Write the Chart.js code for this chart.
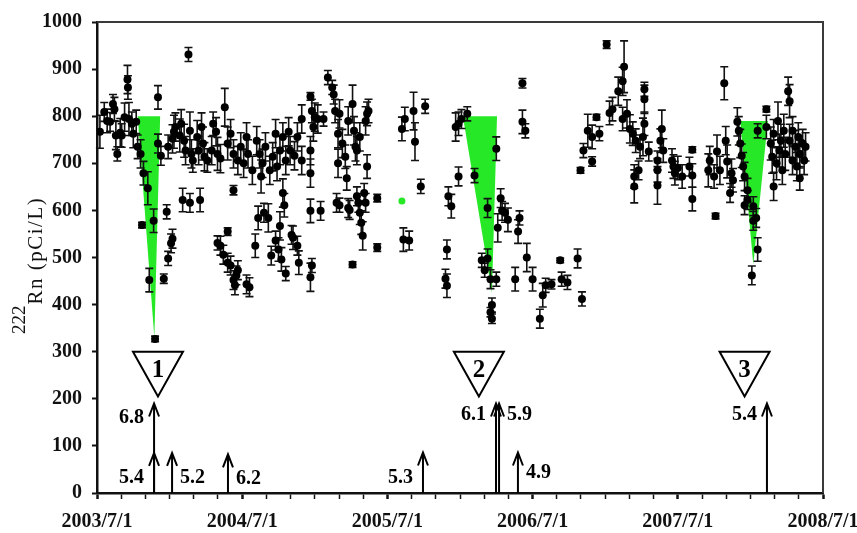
<!DOCTYPE html>
<html>
<head>
<meta charset="utf-8">
<script src="https://cdn.jsdelivr.net/npm/chart.js@4.4.0/dist/chart.umd.min.js"></script>
<style>
  body { margin: 0; background: #fff; }
</style>
</head>
<body>
<canvas id="rnChart" width="857" height="533"></canvas>
<script>
// Radon-222 in groundwater, 2003/7 - 2008/7 (decimal years on the time axis)
const obsYear = [
  2003.52, 2003.55, 2003.57, 2003.59, 2003.61, 2003.62, 2003.63, 2003.64, 2003.66, 2003.67,
  2003.69, 2003.71, 2003.713, 2003.72, 2003.74, 2003.75, 2003.77, 2003.78, 2003.80, 2003.81,
  2003.82, 2003.85, 2003.86, 2003.89, 2003.90, 2003.92, 2003.92, 2003.94, 2003.96, 2003.98,
  2003.99, 2003.99, 2004.01, 2004.02, 2004.02, 2004.03, 2004.04, 2004.07, 2004.08, 2004.09,
  2004.10, 2004.11, 2004.13, 2004.14, 2004.14, 2004.15, 2004.16, 2004.19, 2004.20, 2004.21,
  2004.22, 2004.23, 2004.24, 2004.26, 2004.29, 2004.30, 2004.32, 2004.33, 2004.33, 2004.35,
  2004.35, 2004.37, 2004.38, 2004.40, 2004.40, 2004.40, 2004.42, 2004.42, 2004.44, 2004.44,
  2004.44, 2004.45, 2004.46, 2004.47, 2004.47, 2004.49, 2004.51, 2004.53, 2004.53, 2004.54,
  2004.55, 2004.57, 2004.59, 2004.60, 2004.61, 2004.62, 2004.63, 2004.64, 2004.65, 2004.66,
  2004.68, 2004.69, 2004.70, 2004.71, 2004.73, 2004.73, 2004.74, 2004.75, 2004.76, 2004.76,
  2004.77, 2004.78, 2004.78, 2004.79, 2004.80, 2004.80, 2004.82, 2004.83, 2004.84, 2004.85,
  2004.86, 2004.88, 2004.88, 2004.89, 2004.91, 2004.91, 2004.97, 2004.97, 2004.97, 2004.97,
  2004.98, 2004.98, 2004.97, 2004.99, 2005.00, 2005.02, 2005.04, 2005.06, 2005.09, 2005.12,
  2005.13, 2005.14, 2005.15, 2005.16, 2005.16, 2005.17, 2005.17, 2005.19, 2005.21, 2005.22,
  2005.23, 2005.23, 2005.24, 2005.26, 2005.26, 2005.27, 2005.28, 2005.29, 2005.29, 2005.30,
  2005.31, 2005.31, 2005.32, 2005.33, 2005.34, 2005.35, 2005.35, 2005.36, 2005.36, 2005.37,
  2005.43, 2005.43, 2005.60, 2005.61, 2005.62, 2005.65, 2005.68, 2005.69, 2005.73, 2005.76,
  2005.90, 2005.91, 2005.91, 2005.92, 2005.94, 2005.97, 2005.99, 2005.99, 2006.01, 2006.05,
  2006.10, 2006.15, 2006.17, 2006.19, 2006.19, 2006.21, 2006.22, 2006.21, 2006.22, 2006.25,
  2006.25, 2006.26, 2006.28, 2006.29, 2006.31, 2006.33, 2006.38, 2006.40, 2006.41, 2006.43,
  2006.43, 2006.45, 2006.46, 2006.50, 2006.55, 2006.57, 2006.59, 2006.63, 2006.69, 2006.70,
  2006.74, 2006.81, 2006.84, 2006.83, 2006.85, 2006.88, 2006.91, 2006.91, 2006.94, 2006.96,
  2007.01, 2007.03, 2007.05, 2007.09, 2007.12, 2007.13, 2007.12, 2007.15, 2007.17, 2007.19,
  2007.20, 2007.20, 2007.21, 2007.23, 2007.24, 2007.26, 2007.27, 2007.27, 2007.27, 2007.30,
  2007.36, 2007.36, 2007.36, 2007.38, 2007.39, 2007.40, 2007.46, 2007.47, 2007.48, 2007.50,
  2007.53, 2007.58, 2007.60, 2007.60, 2007.60, 2007.71, 2007.72, 2007.75, 2007.76, 2007.77,
  2007.79, 2007.82, 2007.83, 2007.84, 2007.86, 2007.87, 2007.88, 2007.91, 2007.92, 2007.93,
  2007.94, 2007.95, 2007.96, 2007.98, 2007.96, 2007.98, 2008.02, 2008.02, 2008.04, 2008.05,
  2008.01, 2008.05, 2008.11, 2008.11, 2008.14, 2008.15, 2008.16, 2008.16, 2008.18, 2008.19,
  2008.20, 2008.21, 2008.22, 2008.23, 2008.24, 2008.26, 2008.27, 2008.27, 2008.29, 2008.29,
  2008.31, 2008.32, 2008.33, 2008.34, 2008.34, 2008.36, 2008.37, 2008.38
];

const radon = [
  767, 809, 790, 788, 826, 815, 759, 720, 765, 759,
  798, 878, 861, 794, 784, 763, 788, 735, 720, 569,
  679, 647, 452, 578, 327, 840, 742, 716, 455, 597,
  498, 735, 530, 540, 752, 767, 777, 759, 784, 622,
  748, 727, 931, 769, 616, 720, 706, 756, 727, 622,
  777, 742, 714, 706, 727, 784, 767, 720, 531, 710,
  525, 506, 819, 742, 555, 489, 763, 483, 643, 720,
  452, 441, 462, 706, 473, 735, 700, 756, 443, 720,
  437, 685, 525, 748, 584, 720, 672, 700, 595, 735,
  584, 685, 504, 714, 763, 536, 693, 517, 727, 567,
  496, 756, 637, 611, 706, 466, 767, 727, 548, 542,
  716, 756, 525, 489, 794, 706, 842, 727, 679, 599,
  811, 483, 458, 777, 798, 794, 599, 794, 882, 861,
  846, 811, 616, 763, 700, 805, 611, 742, 714, 668,
  790, 605, 601, 826, 485, 769, 735, 727, 630, 616,
  756, 595, 574, 546, 637, 790, 616, 805, 693, 811,
  626, 521, 773, 538, 794, 536, 811, 746, 651, 821,
  455, 440, 517, 630, 609, 777, 784, 672, 794, 805,
  674, 494, 473, 605, 498, 454, 399, 384, 370, 731,
  454, 563, 626, 599, 595, 580, 454, 555, 584, 870,
  788, 769, 500, 454, 370, 420, 441, 443, 494, 454,
  447, 498, 412, 685, 727, 769, 704, 756, 798, 763,
  952, 807, 815, 853, 874, 905, 794, 805, 773, 763,
  672, 651, 748, 685, 735, 756, 857, 836, 784, 725,
  706, 685, 653, 748, 773, 727, 706, 693, 679, 690,
  672, 693, 674, 729, 624, 685, 706, 672, 588, 725,
  685, 870, 748, 704, 637, 679, 664, 788, 769, 742,
  716, 693, 672, 643, 611, 622, 609, 578, 584, 517,
  462, 769, 815, 777, 742, 714, 763, 651, 700, 790,
  727, 748, 685, 769, 720, 853, 832, 748, 706, 769,
  735, 693, 756, 720, 668, 742, 706, 735
];

const radonErr = [
  35, 20, 25, 20, 20, 25, 30, 15, 30, 25,
  30, 30, 25, 35, 25, 30, 25, 25, 30, 6,
  25, 35, 25, 25, 6, 25, 20, 20, 10, 15,
  15, 25, 20, 20, 30, 35, 30, 35, 30, 25,
  35, 30, 15, 40, 20, 30, 25, 35, 30, 25,
  30, 35, 30, 25, 30, 25, 30, 35, 15, 30,
  20, 20, 40, 35, 8, 20, 30, 20, 10, 30,
  20, 20, 20, 30, 20, 30, 30, 30, 20, 30,
  20, 30, 25, 30, 25, 30, 35, 30, 20, 30,
  30, 30, 20, 30, 30, 20, 30, 25, 30, 30,
  25, 30, 30, 25, 30, 15, 30, 30, 20, 25,
  30, 30, 20, 25, 30, 30, 8, 30, 30, 25,
  25, 15, 30, 30, 30, 30, 20, 15, 15, 15,
  20, 25, 20, 30, 30, 30, 15, 30, 25, 25,
  30, 20, 20, 40, 6, 30, 30, 30, 20, 20,
  30, 25, 25, 30, 20, 30, 20, 25, 25, 25,
  8, 8, 25, 25, 25, 20, 40, 40, 15, 15,
  20, 25, 20, 20, 25, 30, 25, 20, 20, 15,
  15, 15, 15, 20, 20, 20, 15, 10, 10, 25,
  15, 30, 20, 20, 20, 25, 25, 25, 15, 10,
  25, 15, 30, 25, 20, 25, 15, 10, 5, 15,
  15, 20, 15, 6, 15, 35, 10, 25, 6, 15,
  8, 25, 25, 30, 30, 55, 25, 30, 30, 25,
  25, 35, 25, 20, 25, 40, 15, 30, 25, 20,
  20, 25, 40, 25, 40, 25, 25, 25, 25, 25,
  25, 20, 25, 6, 25, 35, 30, 25, 6, 35,
  30, 35, 30, 35, 20, 30, 25, 30, 30, 30,
  25, 30, 30, 25, 20, 20, 20, 20, 20, 25,
  20, 15, 6, 25, 35, 35, 30, 30, 35, 40,
  35, 35, 30, 35, 35, 30, 35, 35, 30, 30,
  35, 30, 30, 30, 25, 30, 30, 30
];

// single green-marked sample
const flagYear = [2005.60];
const flagRadon = [620];

// precursory drops (green wedges)
const wedgeFrom = [2003.78, 2006.02, 2007.93];
const wedgeTo = [2003.935, 2006.255, 2008.12];
const wedgeTop = [800, 800, 790];
const wedgeTipYear = [2003.895, 2006.22, 2008.02];
const wedgeTipValue = [330, 425, 485];

// numbered events
const eventNo = ['1', '2', '3'];
const eventYear = [2003.92, 2006.13, 2007.96];

// earthquakes: arrow tip height and magnitude label
const quakeYear = [2003.893, 2003.893, 2004.017, 2004.402, 2005.745, 2006.248, 2006.269, 2006.399, 2008.114];
const quakeTop = [190, 85, 85, 82, 86, 190, 190, 86, 190];
const quakeMag = ['6.8', '5.4', '5.2', '6.2', '5.3', '6.1', '5.9', '4.9', '5.4'];
const quakeSide = ['left', 'left', 'right', 'right', 'left', 'left', 'right', 'right', 'left'];
const quakeLabelAt = [160, 32, 32, 30, 32, 166, 166, 42, 166];

const serif = '"Liberation Serif", "Times New Roman", serif';
const green = 'rgb(38, 232, 38)';

const points = obsYear.map((t, i) => ({ x: t, y: radon[i] }));
const flagged = flagYear.map((t, i) => ({ x: t, y: flagRadon[i] }));

const overlay = {
  id: 'overlay',
  beforeDatasetsDraw(chart) {
    const { ctx, scales: { x, y } } = chart;
    ctx.save();
    ctx.fillStyle = green;
    wedgeFrom.forEach((a, i) => {
      ctx.beginPath();
      ctx.moveTo(x.getPixelForValue(a), y.getPixelForValue(wedgeTop[i]));
      ctx.lineTo(x.getPixelForValue(wedgeTo[i]), y.getPixelForValue(wedgeTop[i]));
      ctx.lineTo(x.getPixelForValue(wedgeTipYear[i]), y.getPixelForValue(wedgeTipValue[i]));
      ctx.closePath();
      ctx.fill();
    });

    // error bars with caps
    ctx.strokeStyle = '#111';
    ctx.lineWidth = 1.6;
    obsYear.forEach((t, i) => {
      const px = x.getPixelForValue(t);
      const lo = y.getPixelForValue(radon[i] - radonErr[i]);
      const hi = y.getPixelForValue(radon[i] + radonErr[i]);
      ctx.beginPath();
      ctx.moveTo(px, lo); ctx.lineTo(px, hi);
      ctx.moveTo(px - 4, lo); ctx.lineTo(px + 4, lo);
      ctx.moveTo(px - 4, hi); ctx.lineTo(px + 4, hi);
      ctx.stroke();
    });
    ctx.restore();
  },
  afterDatasetsDraw(chart) {
    const { ctx, chartArea: area, scales: { x, y } } = chart;
    ctx.save();

    // box around the plot (top and right)
    ctx.strokeStyle = '#3a3a3a';
    ctx.lineWidth = 2;
    ctx.beginPath();
    ctx.moveTo(area.left, area.top);
    ctx.lineTo(area.right, area.top);
    ctx.lineTo(area.right, area.bottom);
    ctx.stroke();

    // earthquake arrows
    ctx.strokeStyle = '#000';
    ctx.fillStyle = '#000';
    ctx.font = 'bold 20px ' + serif;
    ctx.textBaseline = 'middle';
    const base = y.getPixelForValue(0);
    quakeYear.forEach((t, i) => {
      const px = x.getPixelForValue(t);
      const tip = y.getPixelForValue(quakeTop[i]);
      ctx.lineWidth = 2;
      ctx.beginPath();
      ctx.moveTo(px, base);
      ctx.lineTo(px, tip);
      ctx.moveTo(px - 5, tip + 13);
      ctx.lineTo(px, tip);
      ctx.lineTo(px + 5, tip + 13);
      ctx.stroke();
      const ly = y.getPixelForValue(quakeLabelAt[i]);
      if (quakeSide[i] === 'left') {
        ctx.textAlign = 'right';
        ctx.fillText(quakeMag[i], px - 10, ly);
      } else {
        ctx.textAlign = 'left';
        ctx.fillText(quakeMag[i], px + 8, ly);
      }
    });

    // numbered inverted triangles
    const top = y.getPixelForValue(300);
    const apex = y.getPixelForValue(205);
    ctx.lineWidth = 2;
    ctx.font = 'bold 25px ' + serif;
    ctx.textAlign = 'center';
    eventYear.forEach((t, i) => {
      const px = x.getPixelForValue(t);
      ctx.beginPath();
      ctx.moveTo(px - 25, top);
      ctx.lineTo(px + 25, top);
      ctx.lineTo(px, apex);
      ctx.closePath();
      ctx.fillStyle = '#fff';
      ctx.fill();
      ctx.stroke();
      ctx.fillStyle = '#000';
      ctx.fillText(eventNo[i], px, top + 19);
    });
    ctx.restore();
  },
  afterDraw(chart) {
    // y-axis title with superscript mass number
    const { ctx } = chart;
    ctx.save();
    ctx.translate(42, 334);
    ctx.rotate(-Math.PI / 2);
    ctx.fillStyle = '#111';
    ctx.textBaseline = 'alphabetic';
    ctx.textAlign = 'left';
    ctx.font = '19px ' + serif;
    ctx.fillText('222', 0, -17);
    const w = ctx.measureText('222').width;
    ctx.font = '21px ' + serif;
    ctx.letterSpacing = '1.5px';
    ctx.fillText('Rn (pCi/L)', w + 1, 0);
    ctx.restore();
  }
};

new Chart(document.getElementById('rnChart'), {
  type: 'scatter',
  data: {
    datasets: [
      {
        data: points,
        pointRadius: 4,
        pointHoverRadius: 4,
        backgroundColor: '#000',
        borderWidth: 0
      },
      {
        data: flagged,
        pointRadius: 3.5,
        backgroundColor: green,
        borderWidth: 0
      }
    ]
  },
  options: {
    responsive: false,
    animation: false,
    devicePixelRatio: 1,
    layout: { padding: { left: 0, top: 17, right: 34, bottom: 0 } },
    plugins: { legend: { display: false }, tooltip: { enabled: false } },
    scales: {
      x: {
        type: 'linear',
        min: 2003.5,
        max: 2008.5,
        afterFit(scale) {
          scale.height = 40;
          scale.paddingLeft = 0;
          scale.paddingRight = 0;
        },
        border: { color: '#111', width: 2.5 },
        grid: {
          drawOnChartArea: false,
          tickLength: 6,
          tickColor: '#111',
          tickWidth: (c) => (c.tick && Math.abs((c.tick.value - 2003.5) % 1) < 0.01 ? 2.5 : 1.5)
        },
        ticks: {
          stepSize: 1 / 6,
          autoSkip: false,
          maxRotation: 0,
          padding: 11,
          color: '#111',
          font: { family: serif, size: 20, weight: 'bold' },
          callback(v) {
            const f = v - Math.floor(v);
            return Math.abs(f - 0.5) < 0.01 ? Math.floor(v) + '/7/1' : '';
          }
        }
      },
      y: {
        min: 0,
        max: 1000,
        afterFit(scale) { scale.width = 97; },
        border: { color: '#111', width: 2.5 },
        grid: { drawOnChartArea: false, tickLength: 5, tickColor: '#111', tickWidth: 2 },
        ticks: {
          stepSize: 100,
          padding: 10,
          color: '#111',
          font: { family: serif, size: 20, weight: 'bold' },
          callback: (v) => String(v)
        }
      }
    }
  },
  plugins: [overlay]
});
</script>
</body>
</html>
